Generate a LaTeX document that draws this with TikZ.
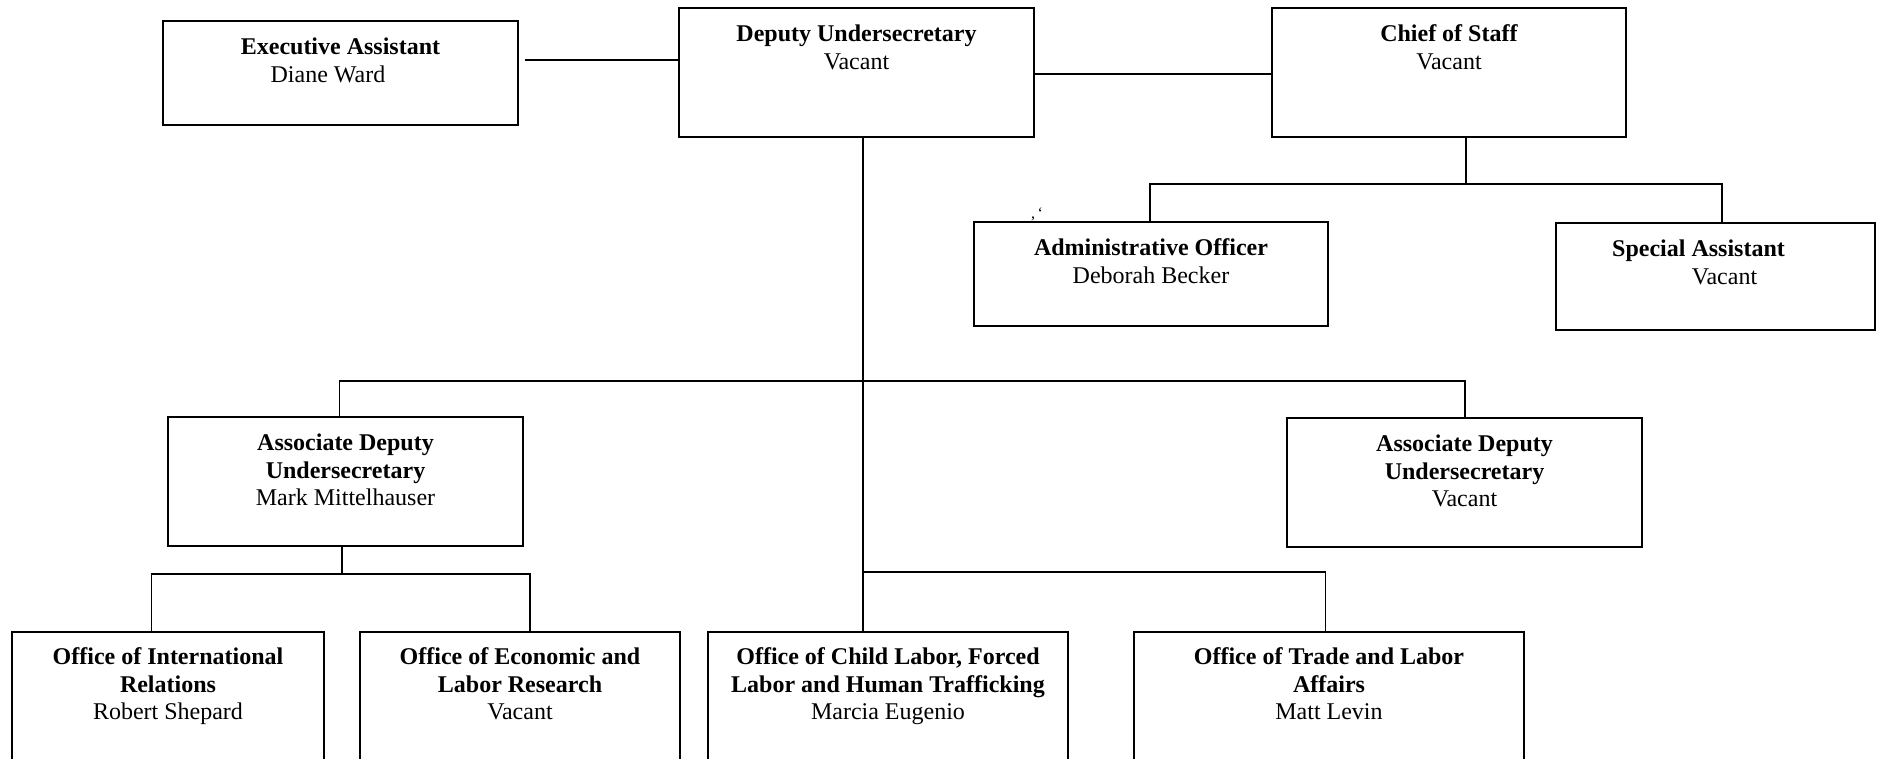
\documentclass[tikz,border=0pt]{standalone}
\usepackage{fontspec}
\setmainfont{Liberation Serif}
\usetikzlibrary{fit,calc}
\begin{document}
\begin{tikzpicture}[x=0.5pt,y=-0.5pt,
  box/.style={draw, line width=0.95pt, inner sep=0pt},
  txt/.style={anchor=north, inner sep=0pt, align=center,
              font=\fontsize{12}{13.8}\selectfont},
  link/.style={line width=0.8pt}]
\useasboundingbox (0,0) rectangle (1883,759);
\clip (0,0) rectangle (1883,759);

% ---- boxes ----
\node[box, fit={(163,21) (518,125)}]      (exec)  {};
\node[box, fit={(679,8) (1034,137)}]      (dep)   {};
\node[box, fit={(1272,8) (1626,137)}]     (chief) {};
\node[box, fit={(974,222) (1328,326)}]    (admin) {};
\node[box, fit={(1556,223) (1875,330)}]   (spec)  {};
\node[box, fit={(168,417) (523,546)}]     (aduL)  {};
\node[box, fit={(1287,418) (1642,547)}]   (aduR)  {};
\node[box, fit={(12,632) (324,800)}]      (oir)   {};
\node[box, fit={(360,632) (680,800)}]     (oelr)  {};
\node[box, fit={(708,632) (1068,800)}]    (ocl)   {};
\node[box, fit={(1134,632) (1524,800)}]   (otla)  {};

% ---- box texts ----
\node[txt] at ($(exec.north)+(0,15)$)
  {\strut\textbf{Executive Assistant}\\Diane Ward\hspace*{12.5pt}};
\node[txt] at ($(dep.north)+(0,15)$)
  {\strut\textbf{Deputy Undersecretary}\\Vacant};
\node[txt] at ($(chief.north)+(0,15)$)
  {\strut\textbf{Chief of Staff}\\Vacant};
\node[txt] at ($(admin.north)+(0,15)$)
  {\strut\textbf{Administrative Officer}\\Deborah Becker};
\node[txt] at ($(spec.north)+(0,15)$)
  {\strut\textbf{Special Assistant}\hspace*{17pt}\\\hspace*{9pt}Vacant};
\node[txt] at ($(aduL.north)+(0,15)$)
  {\strut\textbf{Associate Deputy}\\\textbf{Undersecretary}\\Mark Mittelhauser};
\node[txt] at ($(aduR.north)+(0,15)$)
  {\strut\textbf{Associate Deputy}\\\textbf{Undersecretary}\\Vacant};
\node[txt] at ($(oir.north)+(0,14)$)
  {\strut\textbf{Office of International}\\\textbf{Relations}\\Robert Shepard};
\node[txt] at ($(oelr.north)+(0,14)$)
  {\strut\textbf{Office of Economic and}\\\textbf{Labor Research}\\Vacant};
\node[txt] at ($(ocl.north)+(0,14)$)
  {\strut\textbf{Office of Child Labor, Forced}\\\textbf{Labor and Human Trafficking}\\Marcia Eugenio};
\node[txt] at ($(otla.north)+(0,14)$)
  {\strut\textbf{Office of Trade and Labor}\\\textbf{Affairs}\\Matt Levin};

% stray marks above the Administrative Officer box
\node[inner sep=0pt, font=\fontsize{8}{8}\selectfont] (marks) at (1037,214) {,\,`};

% ---- junction points ----
\coordinate (topbar)  at (863,381);
\coordinate (midbar)  at (863,572);
\coordinate (cosbar)  at (1466,184);
\coordinate (adubar)  at (342,574);

% ---- connectors ----
\draw[link] ($(exec.north east)+(6,39.7)$) -- ($(dep.north west)+(0,52.7)$);
\draw[link] ($(dep.north east)+(0,66.7)$) -- ($(chief.north west)+(0,66.7)$);

% deputy undersecretary down to the child labor office
\draw[link] (dep.south -| topbar) -- (ocl.north -| topbar);
% bar to both associate deputies
\draw[link] (aduL.north -| 339.5,0) |- (topbar) -| (aduR.north -| 1465,0);
% bar to trade and labor affairs
\draw[link] (midbar) -| (otla.north -| 1325.5,0);

% chief of staff to its two assistants
\draw[link] (chief.south -| cosbar) -- (cosbar);
\draw[link] (admin.north -| 1150,0) |- (cosbar) -| (spec.north -| 1722,0);

% left associate deputy to its two offices
\draw[link] (aduL.south -| adubar) -- (adubar);
\draw[link] (oir.north -| 151.5,0) |- (adubar) -| (oelr.north -| 529.7,0);
\end{tikzpicture}
\end{document}
